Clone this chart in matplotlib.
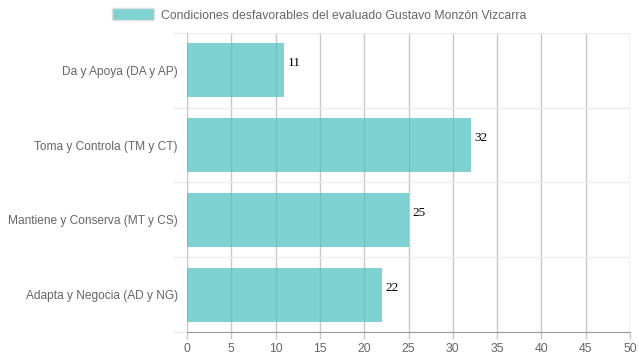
# %% Libs:
import numpy as np
import matplotlib
matplotlib.use('Agg')
import matplotlib.pyplot as plt
from matplotlib.patches import Patch

# %% Data:
categories = ['Da y Apoya (DA y AP)', 'Toma y Controla (TM y CT)',
              'Mantiene y Conserva (MT y CS)', 'Adapta y Negocia (AD y NG)']
values = [11, 32, 25, 22]
legend_label = 'Condiciones desfavorables del evaluado Gustavo Monzón Vizcarra'
xticks = [0, 5, 10, 15, 20, 25, 30, 35, 40, 45, 50]

# %% Plot:
plt.rcParams['font.family'] = ['Liberation Sans', 'DejaVu Sans']
W, H = 639, 360
fig = plt.figure(figsize=(W/100, H/100), dpi=100)
ax = fig.add_axes([187/W, (H-332)/H, (630-187)/W, (332-33)/H])

fill = (75/255, 192/255, 192/255, 0.7)
y = np.arange(len(categories))
ax.barh(y, values, height=0.72, color=fill, edgecolor='none', zorder=3)
ax.set_ylim(len(categories)-0.5, -0.5)
ax.set_xlim(0, 50)

# value labels (sit a bit above the bar centre, like the original)
for yi, v in zip(y, values):
    ax.annotate(str(v), xy=(v, yi), xytext=(2.5, 5), textcoords='offset points',
                family=['Liberation Serif', 'DejaVu Serif'],
                fontsize=9.5, color='black', va='center', ha='left', zorder=4)

# grid
ax.set_xticks(xticks)
ax.set_xticklabels([str(t) for t in xticks])
ax.xaxis.grid(True, color='#c8c8c8', linewidth=1, zorder=0)
ax.set_yticks(y)
ax.set_yticklabels(categories)
ax.set_yticks(np.arange(len(categories)+1) - 0.5, minor=True)
ax.yaxis.grid(True, which='minor', color='#ebebeb', linewidth=1, zorder=0)
ax.tick_params(axis='y', which='major', length=0, pad=6.5, labelsize=8.6, labelcolor='#666666')
ax.tick_params(axis='y', which='minor', length=10, color='#ebebeb', width=1)
ax.tick_params(axis='x', which='major', length=5, color='#c8c8c8', width=1,
               pad=3, labelsize=8.8, labelcolor='#666666')

for s in ['top', 'right']:
    ax.spines[s].set_visible(False)
ax.spines['bottom'].set_color('#999999')
ax.spines['left'].set_color('#c8c8c8')

# legend
handle = Patch(facecolor=fill, edgecolor='#e0e0e0', linewidth=1)
fig.legend([handle], [legend_label], loc='center', bbox_to_anchor=(0.5, (H-15)/H),
           frameon=False, fontsize=8.8, labelcolor='#666666', handlelength=3.4,
           handleheight=1.1, handletextpad=0.6)

plt.savefig('out.png', dpi=100)
